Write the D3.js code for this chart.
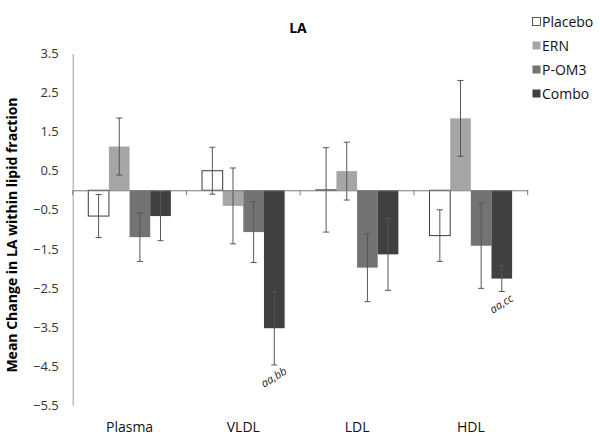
<!DOCTYPE html>
<html>
<head>
<meta charset="utf-8">
<script src="https://cdn.jsdelivr.net/npm/d3@7/dist/d3.min.js"></script>
<style>
  body { margin: 0; background: #fff; }
  svg { display: block; font-family: "Open Sans", "DejaVu Sans", sans-serif; }
</style>
</head>
<body>
<svg id="chart" width="600" height="444"></svg>
<script>
// ---- data ----
const categories = ["Plasma", "VLDL", "LDL", "HDL"];
const seriesNames = ["Placebo", "ERN", "P-OM3", "Combo"];
const placeboValues = [-0.66, 0.50, 0.01, -1.16];
const ernValues = [1.12, -0.40, 0.49, 1.84];
const pom3Values = [-1.20, -1.07, -1.98, -1.42];
const comboValues = [-0.66, -3.53, -1.64, -2.26];
const placeboErrors = [0.55, 0.60, 1.08, 0.66];
const ernErrors = [0.73, 0.97, 0.74, 0.97];
const pom3Errors = [0.62, 0.78, 0.87, 1.09];
const comboErrors = [0.63, 0.94, 0.92, 0.33];
const yTicks = [3.5, 2.5, 1.5, 0.5, -0.5, -1.5, -2.5, -3.5, -4.5, -5.5];
const annotations = [
  { category: "VLDL", series: "Combo", text: "aa,bb" },
  { category: "HDL", series: "Combo", text: "aa,cc" }
];
const title = "LA";
const yLabel = "Mean Change in LA within lipid fraction";

// ---- styles ----
const fills = { "Placebo": "#ffffff", "ERN": "#a6a6a6", "P-OM3": "#737373", "Combo": "#404040" };
const strokes = { "Placebo": "#3a3a3a", "ERN": "none", "P-OM3": "none", "Combo": "none" };

const valuesBySeries = { "Placebo": placeboValues, "ERN": ernValues, "P-OM3": pom3Values, "Combo": comboValues };
const errorsBySeries = { "Placebo": placeboErrors, "ERN": ernErrors, "P-OM3": pom3Errors, "Combo": comboErrors };

const rows = [];
seriesNames.forEach(s => categories.forEach((c, i) => {
  rows.push({ series: s, category: c, value: valuesBySeries[s][i], err: errorsBySeries[s][i] });
}));

const svg = d3.select("#chart");
const plotLeft = 72.7, plotRight = 527.7, plotTop = 53.5, plotBottom = 405.2;

const y = d3.scaleLinear().domain([-5.5, 3.5]).range([plotBottom, plotTop]);
const x0 = d3.scaleBand().domain(categories).range([plotLeft, plotRight]).padding(0);
const step = x0.bandwidth();
const x1 = d3.scaleBand().domain(seriesNames).range([step * 0.137, step * 0.863]).padding(0);

// title
svg.append("text").attr("x", 298).attr("y", 33).attr("text-anchor", "middle")
  .attr("font-weight", "bold").attr("font-size", 14).attr("fill", "#000").text(title);

// y label
svg.append("text")
  .attr("transform", `translate(17,235) rotate(-90)`)
  .attr("text-anchor", "middle").attr("font-weight", "bold").attr("font-size", 14)
  .attr("fill", "#000").text(yLabel);

// y axis
const yAxis = d3.axisLeft(y).tickValues(yTicks).tickFormat(d3.format(".1f")).tickSize(0).tickPadding(14);
const yg = svg.append("g").attr("transform", `translate(${plotLeft},0)`).call(yAxis);
yg.select(".domain").attr("stroke", "#a0a0a0");
yg.selectAll("text").attr("font-size", 13).attr("fill", "#333").attr("font-family", "Open Sans");

// bars
const g = svg.append("g");
g.selectAll("rect.bar").data(rows).join("rect").attr("class", "bar")
  .attr("x", d => x0(d.category) + x1(d.series))
  .attr("width", x1.bandwidth())
  .attr("y", d => y(Math.max(0, d.value)))
  .attr("height", d => Math.abs(y(d.value) - y(0)))
  .attr("fill", d => fills[d.series])
  .attr("stroke", d => strokes[d.series])
  .attr("stroke-width", 1);

// x axis at zero
const xAxis = d3.axisBottom(x0).tickSize(0).tickFormat("");
const xg = svg.append("g").attr("transform", `translate(0,${y(0)})`).call(xAxis);
xg.select(".domain").attr("stroke", "#7a7a7a");
const boundaries = [plotLeft].concat(categories.map(c => x0(c) + step));
xg.selectAll("line.bound").data(boundaries).join("line").attr("class", "bound")
  .attr("x1", d => d).attr("x2", d => d).attr("y1", 0).attr("y2", 5).attr("stroke", "#7a7a7a");

// category labels
svg.selectAll("text.cat").data(categories).join("text").attr("class", "cat")
  .attr("x", d => x0(d) + step / 2).attr("y", 432).attr("text-anchor", "middle")
  .attr("font-size", 14).attr("fill", "#111").text(d => d);

// error bars
const eb = g.selectAll("g.err").data(rows).join("g").attr("class", "err");
const cx = d => x0(d.category) + x1(d.series) + x1.bandwidth() / 2;
eb.append("line").attr("x1", cx).attr("x2", cx)
  .attr("y1", d => y(d.value + d.err)).attr("y2", d => y(d.value - d.err))
  .attr("stroke", "#555").attr("stroke-width", 1);
eb.append("line").attr("x1", d => cx(d) - 3).attr("x2", d => cx(d) + 3)
  .attr("y1", d => y(d.value + d.err)).attr("y2", d => y(d.value + d.err))
  .attr("stroke", "#555");
eb.append("line").attr("x1", d => cx(d) - 3).attr("x2", d => cx(d) + 3)
  .attr("y1", d => y(d.value - d.err)).attr("y2", d => y(d.value - d.err))
  .attr("stroke", "#555");

// annotations
annotations.forEach(a => {
  const r = rows.find(d => d.category === a.category && d.series === a.series);
  const ax = cx(r), ay = y(r.value - r.err) + 13;
  svg.append("text").attr("transform", `translate(${ax},${ay}) rotate(-32)`)
    .attr("text-anchor", "middle").attr("dominant-baseline", "middle")
    .attr("font-style", "italic").attr("font-size", 11).attr("fill", "#222").text(a.text);
});

// legend
const legend = svg.append("g");
seriesNames.forEach((s, i) => {
  const ly = 27 + i * 24;
  legend.append("rect").attr("x", 532.5).attr("y", ly - 9.5).attr("width", 8).attr("height", 8)
    .attr("fill", fills[s]).attr("stroke", s === "Placebo" ? "#333" : "none").attr("stroke-width", 0.8);
  legend.append("text").attr("x", 542).attr("y", ly).attr("font-size", 14).attr("fill", "#111").text(s);
});
</script>
</body>
</html>
